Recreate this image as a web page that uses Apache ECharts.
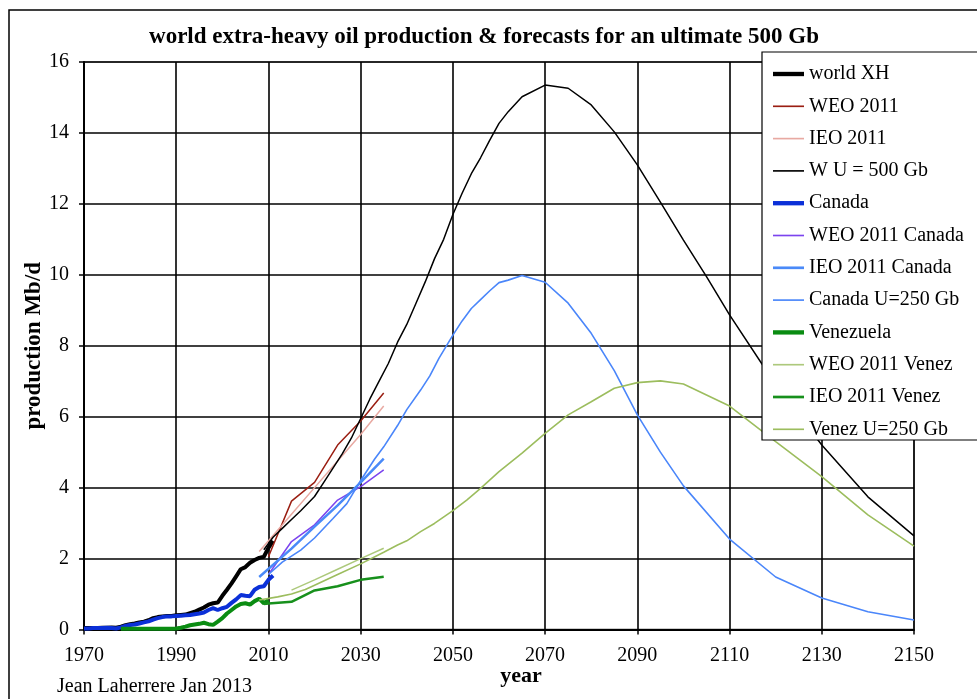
<!DOCTYPE html>
<html><head><meta charset="utf-8">
<script src="https://cdn.jsdelivr.net/npm/echarts@6.0.0/dist/echarts.min.js"></script>
<style>html,body{margin:0;padding:0;background:#fff}#c{width:977px;height:699px}</style>
</head><body><div id="c"></div><script>
// ---- data ----
const xTicks = [1970, 1990, 2010, 2030, 2050, 2070, 2090, 2110, 2130, 2150];
const yTicks = [0, 2, 4, 6, 8, 10, 12, 14, 16];

const worldStart = 1970;
const worldXH = [0.04,0.04,0.04,0.04,0.05,0.05,0.06,0.05,0.08,0.12,
  0.15,0.17,0.20,0.22,0.26,0.32,0.35,0.37,0.38,0.38,
  0.40,0.41,0.42,0.46,0.50,0.56,0.62,0.70,0.74,0.76,
  0.95,1.12,1.30,1.50,1.70,1.76,1.88,1.96,2.02,2.05,2.30,2.50];

const canadaStart = 1970;
const canada = [0.03,0.03,0.04,0.04,0.04,0.05,0.04,0.03,0.06,0.10,
  0.13,0.14,0.17,0.20,0.23,0.28,0.32,0.35,0.37,0.37,
  0.38,0.39,0.40,0.41,0.43,0.45,0.48,0.55,0.60,0.55,
  0.60,0.64,0.75,0.85,0.97,0.95,0.94,1.12,1.20,1.22,1.40,1.52];

const venezStart = 1978;
const venezuela = [0.02,0.02,
  0.02,0.02,0.02,0.02,0.02,0.02,0.02,0.02,0.02,0.02,
  0.03,0.05,0.08,0.12,0.14,0.16,0.19,0.15,0.13,0.22,
  0.32,0.45,0.55,0.65,0.72,0.74,0.70,0.80,0.87,0.74,0.83];

const weoYears = [2010, 2015, 2020, 2025, 2030, 2035];
const weo2011 = [2.05, 3.62, 4.15, 5.20, 5.88, 6.67];

const ieoYears = [2008, 2015, 2020, 2025, 2030, 2035];
const ieo2011 = [2.20, 3.25, 4.00, 4.75, 5.50, 6.30];

const wuYears = [2009,2011,2013,2015,2017,2020,2022,2024,2026,2028,2030,2032,2034,2036,2038,2040,2042,2044,2046,2048,2050,2052,2054,2056,2058,2060,2062,2065,2070,2075,2080,2085,2090,2095,2100,2105,2110,2120,2130,2140,2150];
const wu500 = [2.25,2.60,2.85,3.10,3.35,3.75,4.15,4.55,4.95,5.40,5.95,6.50,7.00,7.50,8.10,8.60,9.20,9.80,10.45,11.00,11.70,12.30,12.85,13.30,13.80,14.27,14.60,15.02,15.35,15.26,14.79,14.03,13.10,12.05,10.98,9.95,8.87,6.90,5.20,3.74,2.64];

const weoCanYears = [2010, 2015, 2020, 2025, 2030, 2035];
const weoCanada = [1.55, 2.48, 2.95, 3.65, 4.03, 4.50];

const ieoCanYears = [2008, 2015, 2020, 2025, 2030, 2035];
const ieoCanada = [1.48, 2.28, 2.90, 3.50, 4.15, 4.82];

const canUYears = [2010,2013,2017,2020,2024,2027,2030,2033,2035,2038,2040,2043,2045,2047,2050,2052,2054,2056,2058,2060,2062,2065,2070,2075,2080,2085,2090,2095,2100,2110,2120,2130,2140,2150];
const canadaU250 = [1.55,1.90,2.24,2.58,3.13,3.55,4.20,4.80,5.15,5.75,6.20,6.75,7.15,7.65,8.30,8.70,9.05,9.30,9.55,9.78,9.85,9.98,9.79,9.20,8.35,7.30,6.05,5.00,4.05,2.55,1.48,0.89,0.50,0.27];

const weoVenYears = [2015, 2020, 2025, 2030, 2035];
const weoVenez = [1.11, 1.40, 1.70, 2.00, 2.29];

const ieoVenYears = [2009, 2010, 2015, 2020, 2025, 2030, 2035];
const ieoVenez = [0.72, 0.73, 0.78, 1.10, 1.22, 1.40, 1.49];

const venUYears = [2008,2012,2015,2018,2020,2025,2030,2035,2038,2040,2043,2046,2050,2053,2056,2060,2065,2070,2075,2080,2085,2090,2095,2100,2110,2120,2130,2140,2150];
const venezU250 = [0.83,0.92,1.00,1.13,1.25,1.55,1.85,2.18,2.38,2.50,2.76,2.99,3.35,3.65,3.98,4.45,4.97,5.53,6.05,6.42,6.80,6.96,7.01,6.92,6.30,5.30,4.31,3.23,2.35];

// ---- build ----
const serif = 'Liberation Serif';
function seq(start, vals){ return vals.map((v,i)=>[start+i, v]); }
function pairs(xs, vals){ return xs.map((x,i)=>[x, vals[i]]); }
const THICK = 'path://M0,0H30V4.2H0Z';
const MID = 'path://M0,0H30V2.6H0Z';
const THIN = 'path://M0,0H30V1.6H0Z';

const defs = [
  {name:'world XH', data:seq(worldStart, worldXH), color:'#000000', w:4, icon:THICK},
  {name:'WEO 2011', data:pairs(weoYears, weo2011), color:'#9a1e12', w:1.5, icon:THIN},
  {name:'IEO 2011', data:pairs(ieoYears, ieo2011), color:'#e8a9a2', w:1.5, icon:THIN},
  {name:'W U = 500 Gb', data:pairs(wuYears, wu500), color:'#000000', w:1.5, icon:THIN},
  {name:'Canada', data:seq(canadaStart, canada), color:'#0b30d8', w:4, icon:THICK},
  {name:'WEO 2011 Canada', data:pairs(weoCanYears, weoCanada), color:'#7c44ee', w:1.5, icon:THIN},
  {name:'IEO 2011 Canada', data:pairs(ieoCanYears, ieoCanada), color:'#4a8af8', w:2.5, icon:MID},
  {name:'Canada U=250 Gb', data:pairs(canUYears, canadaU250), color:'#4a86fa', w:1.6, icon:THIN},
  {name:'Venezuela', data:seq(venezStart, venezuela), color:'#0a8c12', w:4, icon:THICK},
  {name:'WEO 2011 Venez', data:pairs(weoVenYears, weoVenez), color:'#adc97c', w:1.5, icon:THIN},
  {name:'IEO 2011 Venez', data:pairs(ieoVenYears, ieoVenez), color:'#17901c', w:2.5, icon:MID},
  {name:'Venez U=250 Gb', data:pairs(venUYears, venezU250), color:'#9cbd5e', w:1.6, icon:THIN}
];

const series = defs.map(d => ({
  name: d.name, type: 'line', data: d.data, symbol: 'none', showSymbol: false,
  lineStyle: {color: d.color, width: d.w}, itemStyle: {color: d.color, borderWidth: 0},
  emphasis: {disabled: true}, z: 2
}));

const chart = echarts.init(document.getElementById('c'), null, {renderer: 'canvas'});
chart.setOption({
  animation: false,
  backgroundColor: '#ffffff',
  title: {
    text: 'world extra-heavy oil production & forecasts for an ultimate 500 Gb',
    left: 479, top: 21, textAlign: 'center',
    textStyle: {fontFamily: serif, fontWeight: 'bold', fontSize: 23, color: '#000'}
  },
  grid: {left: 84, right: 63, top: 62, bottom: 69.5, show: true, borderColor: '#9a9a9a', borderWidth: 2, backgroundColor: 'transparent'},
  xAxis: {
    type: 'value', min: xTicks[0], max: xTicks[xTicks.length-1], interval: 20,
    name: 'year', nameLocation: 'middle', nameGap: 36, nameMoveOverlap: false,
    nameTextStyle: {fontFamily: serif, fontWeight: 'bold', fontSize: 22, color: '#000', padding: [0,0,0,44]},
    axisLine: {show: true, onZero: false, lineStyle: {color: '#000', width: 2}},
    axisTick: {show: true, length: 5, lineStyle: {color: '#000', width: 1.5}},
    axisLabel: {fontFamily: serif, fontSize: 20, color: '#000', margin: 16, formatter: v => String(v)},
    splitLine: {show: true, lineStyle: {color: '#000', width: 1.6}}
  },
  yAxis: {
    type: 'value', min: yTicks[0], max: yTicks[yTicks.length-1], interval: 2,
    name: 'production Mb/d', nameLocation: 'middle', nameGap: 38, nameMoveOverlap: false,
    nameTextStyle: {fontFamily: serif, fontWeight: 'bold', fontSize: 23, color: '#000'},
    axisLine: {show: true, lineStyle: {color: '#000', width: 2}},
    axisTick: {show: true, length: 5, lineStyle: {color: '#000', width: 1.5}},
    axisLabel: {fontFamily: serif, fontSize: 20, color: '#000', margin: 15},
    splitLine: {show: true, lineStyle: {color: '#000', width: 1.6}}
  },
  legend: {
    orient: 'vertical', left: 773, top: 64, padding: 0, itemGap: 12.3,
    itemWidth: 31, itemHeight: 14, z: 10, selectedMode: false,
    textStyle: {fontFamily: serif, fontSize: 20, color: '#000', lineHeight: 20},
    data: defs.map(d => ({name: d.name, icon: d.icon}))
  },
  graphic: [
    {type: 'rect', z: 0, silent: true, shape: {x: 9, y: 10, width: 1100, height: 800},
      style: {fill: 'none', stroke: '#000', lineWidth: 1.5}},
    {type: 'rect', z: 5, silent: true, shape: {x: 762, y: 52, width: 260, height: 388},
      style: {fill: '#fff', stroke: '#000', lineWidth: 1.2}},
    {type: 'text', z: 5, silent: true, left: 57, top: 677,
      style: {text: 'Jean Laherrere Jan 2013', fontFamily: serif, fontSize: 20, fill: '#000'}}
  ],
  series: series
});
</script></body></html>
